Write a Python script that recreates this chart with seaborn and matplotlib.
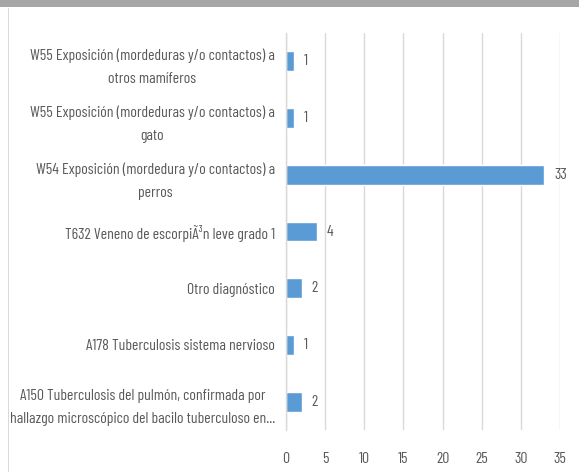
import matplotlib
matplotlib.use("Agg")
import matplotlib.pyplot as plt
import seaborn as sns
import pandas as pd
from matplotlib.patches import Rectangle
from matplotlib import font_manager


categories = [
    "W55 Exposición (mordeduras y/o contactos) a\notros mamíferos",
    "W55 Exposición (mordeduras y/o contactos) a\ngato",
    "W54 Exposición (mordedura y/o contactos) a\nperros",
    "T632 Veneno de escorpiÃ³n leve grado 1",
    "Otro diagnóstico",
    "A178 Tuberculosis sistema nervioso",
    "A150 Tuberculosis del pulmón, confirmada por\nhallazgo microscópico del bacilo tuberculoso en...",
]
counts = [1, 1, 33, 4, 2, 1, 2]
x_ticks = [0, 5, 10, 15, 20, 25, 30, 35]

BAR_COLOR = "#5B9BD5"
TEXT_COLOR = "#595959"
GRID_COLOR = "#D9D9D9"

sns.set_style("white")

# narrow font like the original Calibri rendering, if one is around
installed = {f.name for f in font_manager.fontManager.ttflist}
font_size = 7.5
family = ["DejaVu Sans"]
for name, size in [("Barlow Condensed", 11.3), ("Archivo Narrow", 10.4)]:
    if name in installed:
        family = [name, "DejaVu Sans"]
        font_size = size
        break
plt.rcParams["font.family"] = family

df = pd.DataFrame({"category": categories, "count": counts})

fig = plt.figure(figsize=(5.79, 4.72), dpi=100)
ax = fig.add_axes([286 / 579, 42 / 472, 274 / 579, 397 / 472])

sns.barplot(data=df, y="category", x="count", orient="h", color=BAR_COLOR,
            saturation=1, width=0.352, ax=ax)

ax.set_xlim(0, 35)
ax.set_xticks(x_ticks)
ax.xaxis.grid(True, color=GRID_COLOR, linewidth=1)
ax.set_axisbelow(True)
for side in ["top", "right", "bottom"]:
    ax.spines[side].set_visible(False)
ax.spines["left"].set_color(GRID_COLOR)
ax.spines["left"].set_linewidth(1)
ax.set_xlabel("")
ax.set_ylabel("")
ax.set_yticks(range(len(categories)))
ax.set_yticklabels(categories, multialignment="center", linespacing=1.85)
ax.tick_params(axis="both", length=0, labelsize=font_size, colors=TEXT_COLOR)
ax.tick_params(axis="x", pad=16)
ax.tick_params(axis="y", pad=8)

for container in ax.containers:
    ax.bar_label(container, padding=7, fontsize=font_size, color=TEXT_COLOR)

# screenshot frame: grey band at top, thin line at left
fig.patches.append(Rectangle((0, 1 - 7 / 472), 1, 7 / 472, transform=fig.transFigure,
                             facecolor="#A6A6A6", edgecolor="none"))
fig.patches.append(Rectangle((8 / 579, 0), 1 / 579, 1 - 8 / 472, transform=fig.transFigure,
                             facecolor="#D9D9D9", edgecolor="none"))

fig.savefig("out.png", dpi=100)
